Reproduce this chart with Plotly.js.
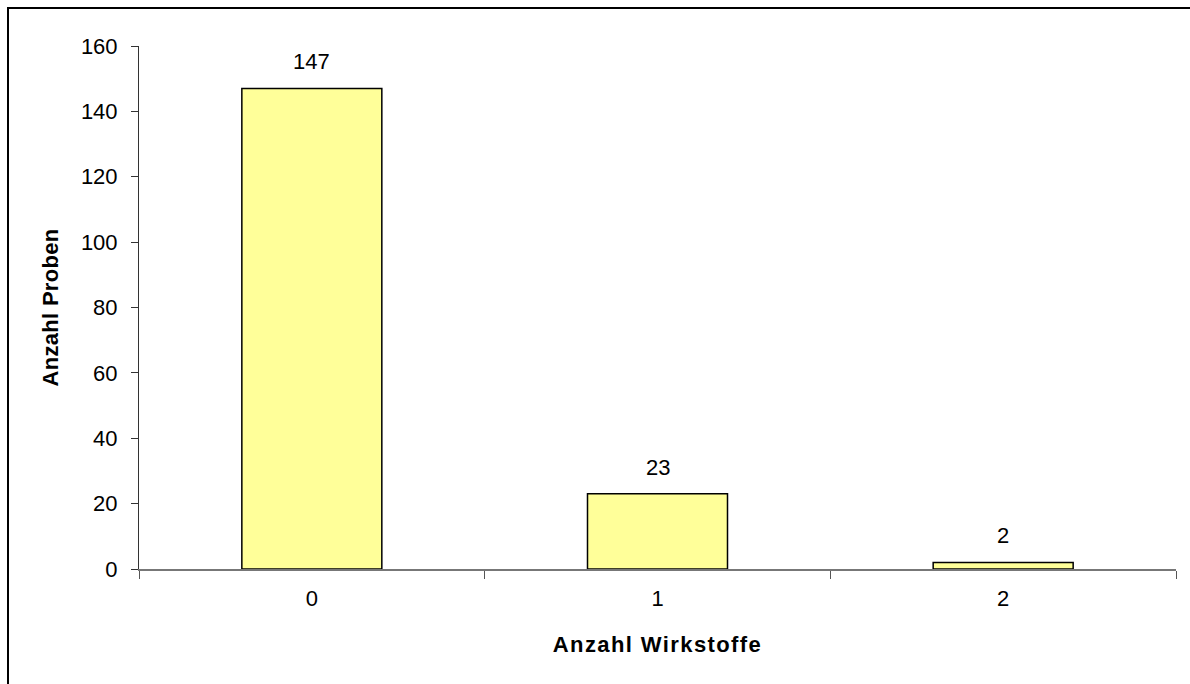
<!DOCTYPE html>
<html>
<head>
<meta charset="utf-8">
<script src="https://cdn.plot.ly/plotly-3.0.1.min.js"></script>
<style>
  html, body { margin: 0; padding: 0; background: #fff; }
  #wrap { position: relative; width: 1190px; height: 684px; overflow: hidden; }
  #chart { width: 1190px; height: 684px; }
  #frame { position: absolute; left: 7px; top: 7px; width: 1300px; height: 800px;
           border-left: 2px solid #000; border-top: 2px solid #000; pointer-events: none; }
  .xtitle { letter-spacing: 1.4px; }
  .ytitle { letter-spacing: 0.3px; }
</style>
</head>
<body>
<div id="wrap">
  <div id="chart"></div>
  <div id="frame"></div>
</div>
<script>
const categories = ["0", "1", "2"];
const counts = [147, 23, 2];
const yTicks = [0, 20, 40, 60, 80, 100, 120, 140, 160];
const xTitle = "Anzahl Wirkstoffe";
const yTitle = "Anzahl Proben";

const FONT = "Liberation Sans, Arial, sans-serif";

const trace = {
  type: "bar",
  x: categories,
  y: counts,
  width: 0.405,
  marker: { color: "#FFFF99", line: { color: "#000", width: 1.5 } },
  hoverinfo: "none"
};

const annotations = categories.map((c, i) => ({
  x: c, y: counts[i], xref: "x", yref: "y",
  text: String(counts[i]), showarrow: false,
  yanchor: "bottom", yshift: 12,
  font: { family: FONT, size: 22, color: "#000" }
}));

const layout = {
  width: 1190, height: 684,
  margin: { l: 139, r: 14, t: 46, b: 115 },
  paper_bgcolor: "#fff", plot_bgcolor: "#fff",
  showlegend: false,
  font: { family: FONT, color: "#000" },
  xaxis: {
    type: "category",
    range: [-0.5, 2.5],
    tickson: "boundaries",
    ticks: "outside", ticklen: 8, tickwidth: 1, tickcolor: "#555",
    showline: true, linecolor: "#777", linewidth: 1.5,
    showgrid: false, zeroline: false,
    tickfont: { family: FONT, size: 22, color: "#000" },
    ticklabelstandoff: 9,
    automargin: true,
    title: { text: xTitle, standoff: 26, font: { family: FONT, size: 22, weight: "bold", color: "#000" } }
  },
  yaxis: {
    range: [0, 160],
    tickvals: yTicks,
    ticktext: yTicks.map(String),
    ticks: "outside", ticklen: 7, tickwidth: 1, tickcolor: "#333",
    showline: true, linecolor: "#333", linewidth: 1,
    showgrid: false, zeroline: false,
    tickfont: { family: FONT, size: 22, color: "#000" },
    ticklabelstandoff: 9,
    automargin: true,
    title: { text: yTitle, standoff: 16, font: { family: FONT, size: 22, weight: "bold", color: "#000" } }
  },
  annotations: annotations
};

Plotly.newPlot("chart", [trace], layout, { staticPlot: true, displayModeBar: false });
</script>
</body>
</html>
